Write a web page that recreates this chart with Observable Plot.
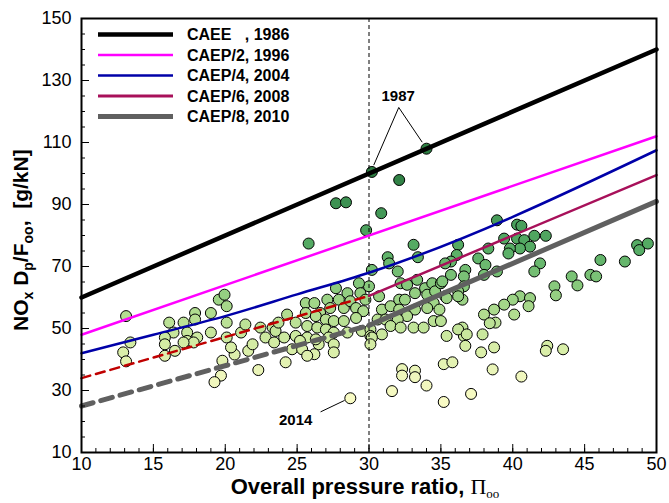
<!DOCTYPE html>
<html><head><meta charset="utf-8">
<script src="https://cdn.jsdelivr.net/npm/d3@7"></script>
<script src="https://cdn.jsdelivr.net/npm/@observablehq/plot@0.6"></script>
<style>body{margin:0;background:#fff} svg{display:block}</style>
</head><body><div id="chart"></div>
<script>
// Engine data: overall pressure ratio and NOx Dp/Foo [g/kN]
const opr = [30.2,34.0,32.1,27.7,28.4,30.85,29.8,25.8,33.1,31.3,33.4,36.2,
31.4,32.0,30.2,30.0,29.3,28.5,29.4,27.7,27.9,27.1,27.3,26.6,25.6,25.6,26.3,25.7,26.4,27.0,27.0,27.55,28.25,28.7,29.1,29.75,29.6,29.1,28.25,28.5,29.5,30.1,30.1,27.55,27.2,26.5,27.55,27.55,25.7,26.2,30.7,30.9,30.6,31.15,31.5,32.1,32.1,32.2,32.65,33.35,33.9,34.4,34.05,34.6,33.2,32.5,33.2,32.65,32.0,31.5,32.2,33.1,33.8,30.9,30.2,30.1,34.5,34.05,
32.3,32.3,33.2,33.2,34.0,31.6,35.2,35.8,35.2,37.1,28.7,24.2,36.6,34.5,35.0,35.3,36.5,34.9,36.5,
38.9,40.3,40.6,39.4,40.3,40.8,41.5,42.3,41.2,40.5,39.8,39.7,38.3,36.1,35.7,35.3,37.6,38.1,38.0,38.9,36.7,36.6,35.7,35.1,36.6,36.2,36.2,35.4,41.9,41.5,42.9,43.0,44.1,44.5,45.4,45.8,46.1,47.8,48.65,48.8,49.4,40.5,41.2,41.1,40.0,39.4,38.7,38.0,38.8,38.4,40.1,35.0,35.4,36.2,36.8,37.9,36.7,37.8,38.7,42.4,43.5,38.6,40.6,42.3,
13.1,13.4,12.9,13.1,16.1,16.4,15.8,15.8,16.5,15.8,17.1,17.35,17.35,17.9,17.9,18.05,17.8,17.1,19.0,19.0,19.55,19.95,20.1,20.1,20.1,19.8,19.7,19.25,20.65,21.1,21.4,21.6,21.9,22.3,22.45,22.8,23.3,23.4,20.4,23.5,23.7,24.1,24.3,24.9,24.9,25.2,24.65,25.35,25.7,26.2,26.3];
const nox = [100.5,108,97.9,90.4,90.7,87.2,81.7,77.4,77.0,73.0,73.0,77.0,
71.0,68.4,68.9,63.6,64.6,61.4,61.4,63.0,59.3,59.3,56.6,55.0,58.2,55.0,54.0,50.8,50.3,52.9,49.7,52.4,56.6,58.8,56.6,59.3,55.6,53.4,52.4,48.7,49.2,49.7,47.6,48.7,47.1,44.9,44.9,42.3,47.1,41.7,60.4,56.1,52.9,52.9,57.2,59.3,56.1,64.6,64.1,65.7,63.0,64.6,60.9,62.0,61.4,59.3,56.1,54.0,52.9,50.8,50.3,50.3,50.3,48.1,47.1,44.9,58.2,56.6,
36.9,34.8,36.4,34.3,31.6,29.8,38.5,39.1,26.3,28.9,27.5,39.1,47.6,52.4,64.6,60.4,59.3,56.1,50.3,
84.9,83.5,83.1,79.0,79.0,78.5,79.9,79.9,76.4,75.8,75.8,74.2,75.8,73.7,71.6,71.0,72.6,70.5,67.3,68.4,68.9,66.8,67.3,65.2,63.6,62.0,60.4,59.8,71.0,68.4,63.6,60.7,66.8,63.9,67.3,66.8,72.1,71.6,76.9,75.3,77.4,60.4,59.8,57.2,59.3,57.7,56.1,54.5,51.9,51.7,54.5,52.4,47.6,49.7,48.1,48.1,44.4,42.3,43.9,44.4,43.3,36.8,34.5,42.8,
54.0,45.5,42.3,39.4,51.9,48.7,47.1,44.9,42.8,41.2,51.9,48.7,46.0,55.0,52.9,47.1,45.5,45.5,55.0,48.7,59.3,60.9,57.2,51.9,47.1,39.6,34.8,32.7,41.6,48.7,51.3,42.8,44.9,36.6,50.3,47.1,50.3,45.5,43.9,49.2,51.9,47.1,54.5,51.9,47.6,46.0,43.3,43.3,41.2,58.2,46.5];

// Regulatory limit lines
const caeeX = [10, 50], caeeY = [60, 140];
const caep2X = [10, 50], caep2Y = [48, 112];
const caep4X = [10, 15, 20, 25, 30, 50], caep4Y = [42, 48, 54, 61, 68, 107.5];
const caep6DashX = [10, 30], caep6DashY = [34, 60.5];
const caep6X = [30, 50], caep6Y = [60.5, 99.5];
const caep8DashX = [10, 30], caep8DashY = [25, 51];
const caep8X = [30, 50], caep8Y = [51, 91];

// Legend
const legendLabels = ["CAEE   , 1986", "CAEP/2, 1996", "CAEP/4, 2004", "CAEP/6, 2008", "CAEP/8, 2010"];
const legendColors = ["#000000", "#ff00ff", "#0000a8", "#a8105a", "#606060"];
const legendWidths = [4.5, 2.5, 2.5, 3, 5];

// Annotations
const noteText = ["1987", "2014"];
const noteX = [32.03, 24.9], noteY = [124.8, 20.5];
const leadX1 = [32.07, 32.07, 26.63], leadY1 = [121.3, 121.3, 23.1];
const leadX2 = [30.33, 33.7, 28.3], leadY2 = [102.7, 110.1, 26.8];

const shadeStops = [25, 35, 45, 55, 65, 75, 90, 100];
const shadeColors = ["#fbfcc6", "#eef6bc", "#d4eca4", "#b0dc8f", "#82c679", "#58ae66", "#3e9353", "#2d7d42"];

const xTicks = d3.range(10, 51, 5), xMinor = d3.range(10, 51, 1);
const yTicks = d3.range(10, 151, 20), yMinor = d3.range(10, 151, 5);

const pts = opr.map((x, i) => ({x, y: nox[i]}));
const seg = (xs, ys) => xs.map((x, i) => ({x, y: ys[i]}));
const notes = noteText.map((t, i) => ({t, x: noteX[i], y: noteY[i]}));
const leads = leadX1.map((x, i) => ({x1: x, y1: leadY1[i], x2: leadX2[i], y2: leadY2[i]}));

const chart = Plot.plot({
  width: 669, height: 503,
  marginLeft: 81, marginRight: 13, marginTop: 18, marginBottom: 51,
  style: {fontFamily: "'Liberation Sans', Arial, sans-serif", fontSize: "18px", color: "#000", background: "#fff", overflow: "visible"},
  x: {domain: [10, 50], label: null},
  y: {domain: [10, 150], label: null},
  color: {type: "linear", domain: shadeStops, range: shadeColors, clamp: true},
  marks: [
    Plot.dot(pts, {x: "x", y: "y", r: 5.5, fill: "y", stroke: "#000", strokeWidth: 1}),
    Plot.ruleX([30], {stroke: "#000", strokeWidth: 1, strokeDasharray: "4,3"}),
    Plot.line(seg(caep8DashX, caep8DashY), {x: "x", y: "y", stroke: legendColors[4], strokeWidth: 5, strokeDasharray: "12,8"}),
    Plot.line(seg(caep8X, caep8Y), {x: "x", y: "y", stroke: legendColors[4], strokeWidth: 5}),
    Plot.line(seg(caep6DashX, caep6DashY), {x: "x", y: "y", stroke: "#c00000", strokeWidth: 2.5, strokeDasharray: "9,6"}),
    Plot.line(seg(caep6X, caep6Y), {x: "x", y: "y", stroke: legendColors[3], strokeWidth: 2.5}),
    Plot.line(seg(caep4X, caep4Y), {x: "x", y: "y", stroke: legendColors[2], strokeWidth: 2.5, curve: "monotone-x"}),
    Plot.line(seg(caep2X, caep2Y), {x: "x", y: "y", stroke: legendColors[1], strokeWidth: 2.5}),
    Plot.line(seg(caeeX, caeeY), {x: "x", y: "y", stroke: legendColors[0], strokeWidth: 4.5}),
    Plot.link(leads, {x1: "x1", y1: "y1", x2: "x2", y2: "y2", stroke: "#000", strokeWidth: 1}),
    Plot.text(notes, {x: "x", y: "y", text: "t", fontWeight: "bold", fontSize: 15, fill: "#000"}),
    Plot.frame({stroke: "#000", strokeWidth: 2}),
    Plot.axisX({ticks: xMinor, tickSize: -4, fill: "none", label: null}),
    Plot.axisX({ticks: xTicks, tickSize: -8, fill: "none", label: null}),
    Plot.axisX({ticks: xTicks, tickSize: 0, tickPadding: 5, label: null}),
    Plot.axisY({ticks: yMinor, tickSize: -4, fill: "none", label: null}),
    Plot.axisY({ticks: yTicks, tickSize: -8, fill: "none", label: null}),
    Plot.axisY({ticks: yTicks, tickSize: 0, tickPadding: 10, label: null})
  ]
});

const svg = d3.select(chart);
const lg = svg.append("g").attr("text-anchor", "start");
legendLabels.forEach((lab, i) => {
  const yy = 34.5 + i * 20.5;
  lg.append("line").attr("x1", 98).attr("x2", 173).attr("y1", yy).attr("y2", yy)
    .attr("stroke", legendColors[i]).attr("stroke-width", legendWidths[i]);
  lg.append("text").attr("x", 187).attr("y", yy).attr("dy", "0.36em").attr("text-anchor", "start")
    .attr("font-size", 16).attr("font-weight", "bold").style("white-space", "pre").text(lab);
});

// x axis title
const xt = svg.append("text").attr("x", 365).attr("y", 494).attr("text-anchor", "middle")
  .attr("font-size", 22).attr("font-weight", "bold");
xt.append("tspan").text("Overall pressure ratio, ");
xt.append("tspan").attr("font-family", "'Liberation Serif', 'DejaVu Serif', serif").attr("font-weight", "normal").text("Π");
xt.append("tspan").attr("font-family", "'Liberation Serif', 'DejaVu Serif', serif").attr("font-weight", "normal").attr("font-size", 13).attr("dy", 4).text("oo");

// y axis title
const yt = svg.append("text").attr("transform", "translate(28,331) rotate(-90)").attr("text-anchor", "start")
  .attr("font-size", 21).attr("font-weight", "bold").style("white-space", "pre");
yt.append("tspan").text("NO");
yt.append("tspan").attr("font-size", 14).attr("dy", 5).text("x");
yt.append("tspan").attr("dy", -5).text(" D");
yt.append("tspan").attr("font-size", 14).attr("dy", 5).text("p");
yt.append("tspan").attr("dy", -5).text("/F");
yt.append("tspan").attr("font-size", 14).attr("dy", 5).text("oo");
yt.append("tspan").attr("dy", -5).text(",  [g/kN]");

document.getElementById("chart").appendChild(chart);
</script>
</body></html>
